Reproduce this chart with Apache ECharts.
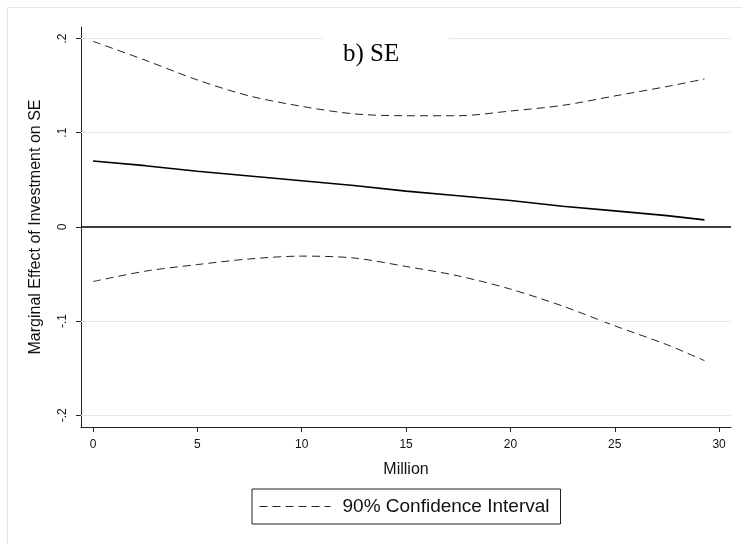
<!DOCTYPE html>
<html>
<head>
<meta charset="utf-8">
<script src="https://cdn.jsdelivr.net/npm/echarts@6/dist/echarts.min.js"></script>
<style>html,body{margin:0;padding:0;background:#fff;}#c{width:742px;height:544px;}</style>
</head>
<body>
<div id="c"></div>
<script>
// Data
const xValues = [0, 2.5, 5, 7.5, 10, 12.5, 15, 17.5, 20, 22.5, 25, 27.5, 29.3];
const marginalEffect = [0.070, 0.065, 0.059, 0.054, 0.049, 0.044, 0.038, 0.033, 0.028, 0.022, 0.017, 0.012, 0.0075];
const upperCI = [0.197, 0.177, 0.156, 0.139, 0.128, 0.120, 0.118, 0.118, 0.123, 0.129, 0.139, 0.149, 0.157];
const lowerCI = [-0.058, -0.047, -0.040, -0.034, -0.031, -0.033, -0.042, -0.052, -0.066, -0.084, -0.105, -0.125, -0.142];
const xTicks = [0, 5, 10, 15, 20, 25, 30];
const yTicks = [-0.2, -0.1, 0, 0.1, 0.2];
const gridValues = [-0.2, -0.1, 0.1, 0.2];
const titleText = 'b) SE';
const legendName = '90% Confidence Interval';

const pairs = (ys) => xValues.map((x, i) => [x, ys[i]]);
const fmtY = (v) => {
  if (Math.abs(v) < 1e-9) return '0';
  const s = v.toFixed(1);
  return s.replace('0.', '.');
};

const chart = echarts.init(document.getElementById('c'), null, {renderer: 'canvas'});
chart.setOption({
  animation: false,
  backgroundColor: '#fff',
  graphic: [{
    type: 'rect', shape: {x: 7.5, y: 7.5, width: 760, height: 560},
    style: {fill: 'none', stroke: '#e6e6e6', lineWidth: 1}, z: -10
  }],
  title: {
    text: titleText,
    left: 323, top: 36,
    padding: [6, 50, 6, 20],
    backgroundColor: '#fff',
    textStyle: {fontFamily: 'Liberation Serif, Times New Roman, serif', fontWeight: 'normal', fontSize: 25, color: '#000'}
  },
  legend: {
    data: [legendName],
    left: 252, top: 489,
    padding: [8, 11, 8, 7],
    borderColor: '#222', borderWidth: 1,
    itemWidth: 71, itemHeight: 14,
    itemStyle: {opacity: 0},
    lineStyle: {type: [8, 5], color: '#222', width: 1},
    textStyle: {fontFamily: 'Liberation Sans, Arial, sans-serif', fontSize: 19, color: '#111', padding: [0, 0, 0, 7]}
  },
  grid: {left: 81, right: 11, top: 27, bottom: 117, containLabel: false},
  xAxis: {
    type: 'value', min: -0.575, max: 30.57,
    name: 'Million', nameLocation: 'middle', nameGap: 35,
    nameTextStyle: {fontFamily: 'Liberation Sans, Arial, sans-serif', fontSize: 16, color: '#111'},
    axisLine: {show: true, onZero: false, lineStyle: {color: '#222', width: 1}},
    axisTick: {show: true, length: 5, inside: false, customValues: xTicks, lineStyle: {color: '#222'}},
    axisLabel: {customValues: xTicks, margin: 12, fontFamily: 'Liberation Sans, Arial, sans-serif', fontSize: 12, color: '#111', formatter: (v) => String(v)},
    splitLine: {show: false}
  },
  yAxis: {
    type: 'value', min: -0.2124, max: 0.2122,
    name: 'Marginal Effect of Investment on SE', nameLocation: 'middle', nameGap: 37, nameRotate: 90,
    nameTextStyle: {fontFamily: 'Liberation Sans, Arial, sans-serif', fontSize: 16, color: '#111'},
    axisLine: {show: true, onZero: false, lineStyle: {color: '#222', width: 1}},
    axisTick: {show: true, length: 5, inside: false, customValues: yTicks, lineStyle: {color: '#222'}},
    axisLabel: {customValues: yTicks, rotate: 90, margin: 12, fontFamily: 'Liberation Sans, Arial, sans-serif', fontSize: 12, color: '#111', formatter: fmtY},
    splitLine: {show: false}
  },
  series: [
    {
      name: 'grid', type: 'line', data: [], silent: true,
      markLine: {
        silent: true, symbol: 'none', label: {show: false},
        lineStyle: {color: '#e6e6e6', width: 1, type: 'solid'},
        data: gridValues.map(v => ({yAxis: v}))
      }
    },
    {
      name: 'zero', type: 'line', data: [], silent: true,
      markLine: {
        silent: true, symbol: 'none', label: {show: false},
        lineStyle: {color: '#000', width: 1.5, type: 'solid'},
        data: [{yAxis: 0}]
      }
    },
    {
      name: 'Marginal Effect', type: 'line', data: pairs(marginalEffect),
      symbol: 'none', lineStyle: {color: '#000', width: 1.6}
    },
    {
      name: legendName, type: 'line', data: pairs(upperCI),
      symbol: 'none', smooth: 0.3, lineStyle: {color: '#222', width: 1, type: [8, 5]}
    },
    {
      name: legendName, type: 'line', data: pairs(lowerCI),
      symbol: 'none', smooth: 0.3, lineStyle: {color: '#222', width: 1, type: [8, 5]}
    }
  ]
});
</script>
</body>
</html>
